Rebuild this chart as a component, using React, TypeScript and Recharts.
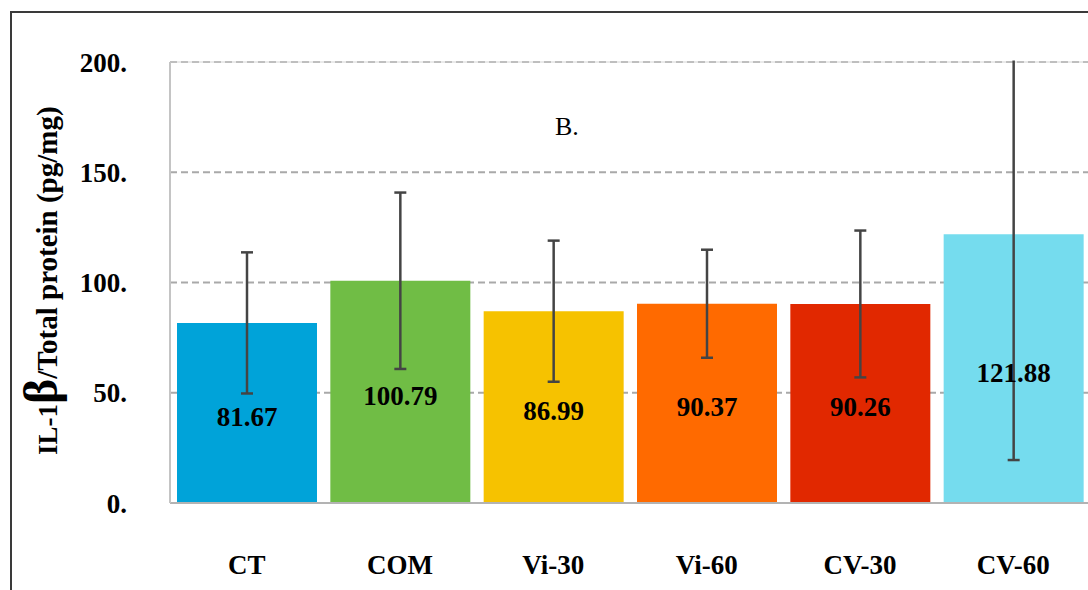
import { ComposedChart, Bar, Cell, XAxis, YAxis, CartesianGrid, ErrorBar, LabelList, ReferenceLine } from 'recharts';

const groups = ['CT', 'COM', 'Vi-30', 'Vi-60', 'CV-30', 'CV-60'];
const means = [81.67, 100.79, 86.99, 90.37, 90.26, 121.88];
const errors = [32, 40, 32, 24.5, 33.3, 102.4];
const barColors = ['#00a3d9', '#70bd45', '#f6c200', '#ff6a00', '#e12800', '#75dcee'];
const yTicks = [0, 50, 100, 150, 200];

const rows = groups.map((g, i) => ({ name: g, value: means[i], err: errors[i] }));

const SERIF = '"Liberation Serif", "Times New Roman", serif';

function ValueLabel(p: any) {
    const { x, y, width, height, value } = p;
    return (
        <text x={x + width / 2} y={y + height / 2 + 13} textAnchor="middle"
            fontFamily={SERIF} fontWeight="bold" fontSize={27} fill="#000">
            {Number(value).toFixed(2)}
        </text>
    );
}

export default function App() {
    return (
        <div style={{ position: 'fixed', left: 0, top: 0, width: 1088, height: 590, overflow: 'hidden', background: '#fff' }}>
            <div style={{ position: 'absolute', left: 0, top: 0 }}>
                <ComposedChart width={1100} height={590} data={rows}
                    margin={{ top: 62, right: 10, left: 0, bottom: 0 }}>
                    <CartesianGrid vertical={false} stroke="#a9a9a9" strokeWidth={2} strokeDasharray="7 4" />
                    <ReferenceLine y={200} stroke="#d4d4d4" strokeWidth={1} />
                    <XAxis dataKey="name" height={87} tickLine={false} tickSize={0} tickMargin={52}
                        axisLine={{ stroke: '#b3b3b3', strokeWidth: 2 }}
                        tick={{ fontFamily: SERIF, fontWeight: 'bold', fontSize: 27, fill: '#000' }} />
                    <YAxis width={170} domain={[0, 200]} ticks={yTicks} allowDataOverflow
                        tickLine={false} tickSize={0} tickMargin={43}
                        axisLine={{ stroke: '#c4c4c4', strokeWidth: 2 }}
                        tickFormatter={(v: number) => `${v}.`}
                        tick={{ fontFamily: SERIF, fontWeight: 'bold', fontSize: 27, fill: '#000' }} />
                    <Bar dataKey="value" barSize={140} isAnimationActive={false}>
                        {rows.map((r, i) => <Cell key={r.name} fill={barColors[i]} />)}
                        <ErrorBar dataKey="err" width={6} stroke="#444" strokeWidth={2.5} direction="y" />
                        <LabelList dataKey="value" content={ValueLabel} />
                    </Bar>
                </ComposedChart>
            </div>
            <svg width={1088} height={590} style={{ position: 'absolute', left: 0, top: 0, pointerEvents: 'none' }}>
                {/* error bars past the 200 line are cut off in the original */}
                <rect x={172} y={0} width={916} height={60.5} fill="#fff" />
                <rect x={11} y={12} width={1200} height={700} fill="none" stroke="#3a3a3a" strokeWidth={2} />
                <text x={555} y={135} fontFamily={SERIF} fontSize={26} fill="#000">B.</text>
                <text x={57} y={455} transform="rotate(-90 57 455)" fontFamily={SERIF} fontWeight="bold" fill="#000">
                    <tspan fontSize={27}>IL-1</tspan>
                    <tspan fontSize={48}>β</tspan>
                    <tspan fontSize={29}>/Total protein (pg/mg)</tspan>
                </text>
            </svg>
        </div>
    );
}
